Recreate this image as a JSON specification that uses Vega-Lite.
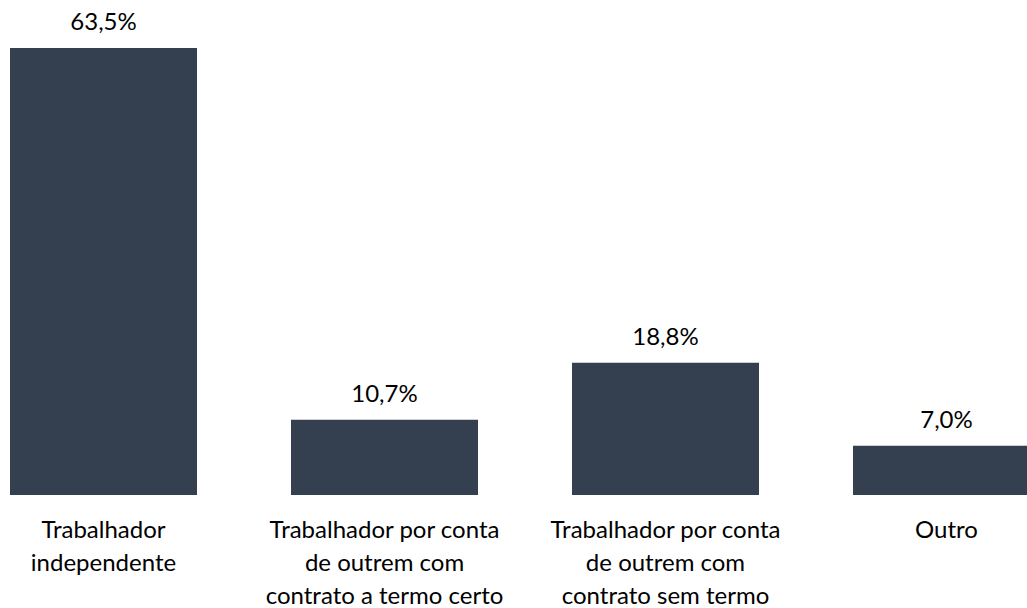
{
  "$schema": "https://vega.github.io/schema/vega-lite/v6.json",
  "autosize": "none",
  "width": 1050,
  "height": 447,
  "padding": {"top": 48, "left": 0, "right": 0, "bottom": 113},
  "background": "white",
  "config": {
    "view": {"stroke": null},
    "font": "Lato",
    "locale": {"number": {"decimal": ",", "thousands": ".", "grouping": [3], "currency": ["", " €"]}}
  },
  "data": {
    "values": [
      {"categoria": "Trabalhador independente", "valor": 0.635},
      {"categoria": "Trabalhador por conta de outrem com contrato a termo certo", "valor": 0.107},
      {"categoria": "Trabalhador por conta de outrem com contrato sem termo", "valor": 0.188},
      {"categoria": "Outro", "valor": 0.07}
    ]
  },
  "encoding": {
    "x": {
      "field": "categoria",
      "type": "nominal",
      "sort": null,
      "scale": {"paddingInner": 0.3345, "paddingOuter": 0.0356},
      "axis": {
        "title": null,
        "domain": false,
        "ticks": false,
        "labelAngle": 0,
        "labelFontSize": 24,
        "labelColor": "#000000",
        "labelPadding": 23,
        "labelLineHeight": 33,
        "labelLimit": 400,
        "labelExpr": "datum.value == 'Trabalhador independente' ? ['Trabalhador', 'independente'] : datum.value == 'Trabalhador por conta de outrem com contrato a termo certo' ? ['Trabalhador por conta', 'de outrem com', 'contrato a termo certo'] : datum.value == 'Trabalhador por conta de outrem com contrato sem termo' ? ['Trabalhador por conta', 'de outrem com', 'contrato sem termo'] : datum.value"
      }
    },
    "y": {
      "field": "valor",
      "type": "quantitative",
      "scale": {"domain": [0, 0.635], "nice": false},
      "axis": null
    }
  },
  "layer": [
    {"mark": {"type": "bar", "color": "#343f50", "clip": false}},
    {
      "mark": {"type": "text", "baseline": "bottom", "dy": -13, "fontSize": 24, "color": "#000000"},
      "encoding": {"text": {"field": "valor", "type": "quantitative", "format": ".1%"}}
    }
  ]
}
